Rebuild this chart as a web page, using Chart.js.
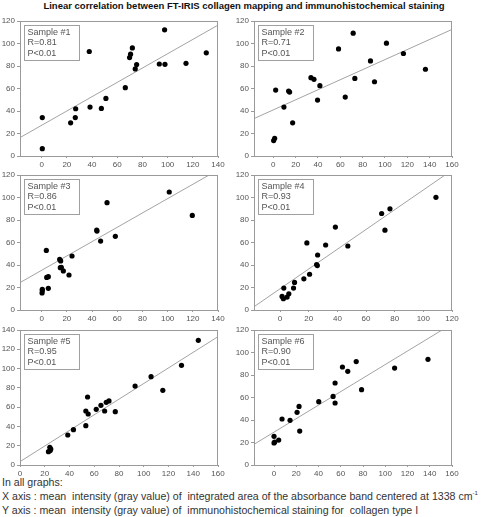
<!DOCTYPE html>
<html><head><meta charset="utf-8">
<script src="https://cdn.jsdelivr.net/npm/chart.js@4"></script>
<style>
body{margin:0;width:488px;height:517px;position:relative;background:#fff;font-family:"Liberation Sans",Arial,sans-serif;overflow:hidden}
canvas{position:absolute}
#title{position:absolute;left:0;width:488px;top:0;text-align:center;font-weight:bold;font-size:9.5px;line-height:12px;color:#111;white-space:nowrap}
.note{position:absolute;left:2px;font-size:10.6px;line-height:12px;color:#333;white-space:pre}
.note sup{font-size:6px;vertical-align:top;line-height:6px}
</style></head><body>
<div id="title">Linear correlation between FT-IRIS collagen mapping and immunohistochemical staining</div>
<div class="note" style="top:476px">In all graphs:</div>
<div class="note" style="top:490px">X axis : mean  intensity (gray value) of  integrated area of the absorbance band centered at 1338 cm<sup>-1</sup></div>
<div class="note" style="top:504px">Y axis : mean  intensity (gray value) of  immunohistochemical staining for  collagen type I</div>
<script>
// ---- data ----
const sampleNames = ["Sample #1","Sample #2","Sample #3","Sample #4","Sample #5","Sample #6"];
const rLabels = ["R=0.81","R=0.71","R=0.86","R=0.93","R=0.95","R=0.90"];
const pLabels = ["P<0.01","P<0.01","P<0.01","P<0.01","P<0.01","P<0.01"];

const sample1X = [0.5,0.5,23,26.7,27,37.8,38.4,47.4,51,66.4,69.8,70.6,72,74.3,75.4,93.4,97.6,97.9,114.6,130.7];
const sample1Y = [34.2,6.5,29.5,34.2,42,92.9,43.5,42.3,51.2,60.7,87.5,90.5,96.1,77.4,81.3,81.8,112.2,81.5,82.4,91.7];
const sample2X = [0.3,1.2,2.1,9.5,13.7,14.6,17.3,33.7,36.4,39.6,41.7,58.4,64.4,71.5,73,87,90.6,101.3,116.5,136.2];
const sample2Y = [13.7,15.8,58.6,43.5,57.7,56.8,29.5,69.6,68.2,49.7,62.5,95.2,52.4,109.2,69,84.5,66,100.3,91.1,77.1];
const sample3X = [0.3,0.5,0.5,3.7,4,5.3,5.3,14.3,15.1,14.8,15.6,17.2,21.7,24.1,43.7,43.9,46.8,51.9,58.5,101.3,119.6];
const sample3Y = [15.1,17.2,18.4,53,29,29.6,19.3,45,43.6,37.6,37.9,34.7,31.1,48,71.1,70.2,61.3,95.4,65.5,104.9,84.1];
const sample4X = [1.4,2.3,2.6,4.9,6.1,9.4,10.1,16.6,18.7,20.6,25.5,26,26.2,31.8,38.6,47.3,70.9,73.2,76.7,108.8];
const sample4Y = [12.1,10,19.5,11.5,14.4,19.5,24.5,27.7,59.6,31.8,40.4,39.5,48.9,57.8,73.7,56.9,85.8,71,89.9,100.2];
const sample5X = [23,24.1,24.9,24.4,38.6,43.2,53.2,53.2,54.6,55.1,61.6,65.4,68.4,69.7,71.9,77,93,105.9,115.4,130.5,144.1];
const sample5Y = [13.8,18.3,16.6,15,31.1,36.6,40.8,56,70.5,52.9,57.7,61.9,56,65,66.4,55.3,81.9,91.6,77.4,103.4,129.3];
const sample6X = [0,0,0.6,4.2,7.2,14.4,20.7,22.5,23.1,40.2,53.1,54.9,54.9,61.5,66.3,73.9,78.7,108.4,138.4];
const sample6Y = [25.5,19.6,20.4,22.2,40.9,39.7,46.8,52.1,30.2,56.3,61,72.9,55.1,87.1,83.3,91.9,67,86.2,93.9];

// regression lines
const lineIntercepts = [27.3,41.0,35.3,18.9,3.5,29.2];
const lineSlopes = [0.636,0.447,0.637,0.878,0.81,0.601];

// axes
const xMins = [-17.2,-17.3,-17.2,-18.2,0,-18];
const xMaxs = [140,160,140,120,160,160];
const yMaxs = [120,120,120,120,140,120];
const xTicks140 = [0,20,40,60,80,100,120,140];
const xTicks160 = [0,20,40,60,80,100,120,140,160];
const xTicks120 = [0,20,40,60,80,100,120];
const yTicks120 = [0,20,40,60,80,100,120];
const yTicks140 = [0,20,40,60,80,100,120,140];

const allX = [sample1X,sample2X,sample3X,sample4X,sample5X,sample6X];
const allY = [sample1Y,sample2Y,sample3Y,sample4Y,sample5Y,sample6Y];
const allXTicks = [xTicks140,xTicks160,xTicks140,xTicks120,xTicks160,xTicks160];
const allYTicks = [yTicks120,yTicks120,yTicks120,yTicks120,yTicks140,yTicks120];

// ---- layout ----
const FONT = '"Liberation Sans", Arial, sans-serif';
const PLOT_H = 135;
const rowTops = [20.6,175,330];
const colSpec = [
  {left:0, width:232, yw:20, pr:14},
  {left:230, width:258, yw:24, pr:36}
];

const boxPlugin = {
  id:'framebox',
  afterDatasetsDraw(chart){
    const o = chart.options.plugins.framebox;
    const a = chart.chartArea, c = chart.ctx;
    c.save();
    c.strokeStyle = '#9a9a9a'; c.lineWidth = 1;
    c.strokeRect(Math.round(a.left)+0.5, Math.round(a.top)+0.5, Math.round(a.right-a.left)-1, Math.round(a.bottom-a.top));
    const bx = Math.round(a.left+4)+0.5, by = Math.round(a.top+4)+0.5;
    c.fillStyle = '#fff';
    c.fillRect(bx, by, 55, 35);
    c.strokeStyle = '#a0a0a0';
    c.strokeRect(bx, by, 55, 35);
    c.fillStyle = '#555';
    c.font = '9px ' + FONT;
    c.textBaseline = 'middle';
    c.textAlign = 'left';
    o.lines.forEach((t,k)=>c.fillText(t, bx+3, by+7+k*10.5));
    c.restore();
  }
};

for(let i=0;i<6;i++){
  const col = colSpec[i%2], row = Math.floor(i/2);
  const cv = document.createElement('canvas');
  const h = 8 + PLOT_H + 14;
  cv.width = col.width; cv.height = h;
  cv.style.left = col.left + 'px';
  cv.style.top = (rowTops[row]-8) + 'px';
  cv.style.width = col.width + 'px'; cv.style.height = h + 'px';
  document.body.appendChild(cv);
  const xs = allX[i], ys = allY[i];
  const xmin = xMins[i], xmax = xMaxs[i];
  const lineData = [
    {x:xmin, y:lineIntercepts[i]+lineSlopes[i]*xmin},
    {x:xmax, y:lineIntercepts[i]+lineSlopes[i]*xmax}
  ];
  const xt = allXTicks[i], yt = allYTicks[i];
  new Chart(cv.getContext('2d'), {
    type:'scatter',
    data:{datasets:[
      {type:'line', data:lineData, borderColor:'#8c8c8c', borderWidth:0.8, pointRadius:0, fill:false, order:2},
      {data:xs.map((x,j)=>({x:x, y:ys[j]})), backgroundColor:'#000', borderColor:'#000', borderWidth:0, pointRadius:2.6, pointHoverRadius:2.6, order:1}
    ]},
    options:{
      responsive:false, animation:false, events:[], devicePixelRatio:1,
      layout:{padding:{left:0,right:col.pr,top:8,bottom:0}},
      plugins:{legend:{display:false}, tooltip:{enabled:false},
        framebox:{lines:[sampleNames[i], rLabels[i], pLabels[i]]}},
      scales:{
        x:{type:'linear', min:xmin, max:xmax,
          afterBuildTicks:s=>{s.ticks = xt.map(v=>({value:v}));},
          afterFit:s=>{s.height = 14;},
          grid:{display:true, drawOnChartArea:false, drawTicks:true, tickLength:2, color:'#9a9a9a'},
          border:{display:false},
          ticks:{font:{size:8,family:FONT}, color:'#555', padding:2, maxRotation:0, autoSkip:false}},
        y:{type:'linear', min:0, max:yMaxs[i],
          afterBuildTicks:s=>{s.ticks = yt.map(v=>({value:v}));},
          afterFit:s=>{s.width = col.yw;},
          grid:{display:true, drawOnChartArea:false, drawTicks:true, tickLength:3, color:'#9a9a9a'},
          border:{display:false},
          ticks:{font:{size:8,family:FONT}, color:'#555', padding:2, autoSkip:false}}
      }
    },
    plugins:[boxPlugin]
  });
}
</script>
</body></html>
